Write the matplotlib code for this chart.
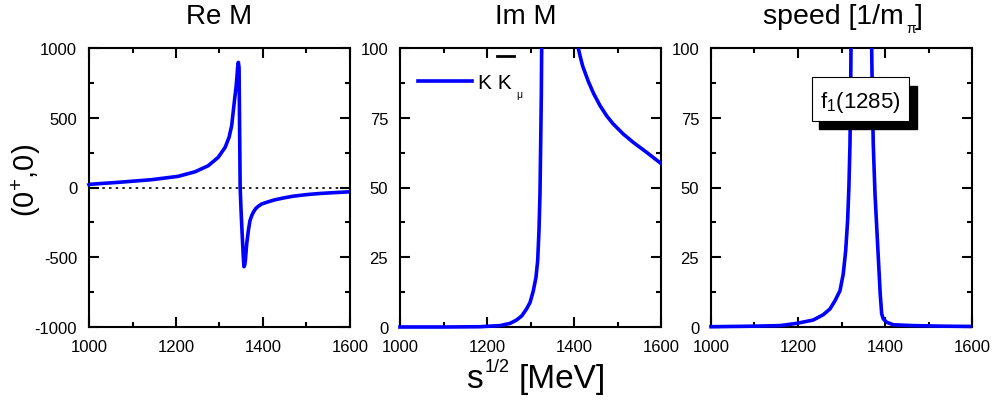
import numpy as np
import matplotlib
matplotlib.use('Agg')
import matplotlib.pyplot as plt
from matplotlib.patches import Rectangle
from matplotlib.lines import Line2D
from matplotlib.ticker import MultipleLocator
from matplotlib.transforms import Bbox, TransformedBbox

plt.rcParams['font.family'] = ['Liberation Sans', 'DejaVu Sans']
plt.rcParams['mathtext.fontset'] = 'custom'
plt.rcParams['mathtext.rm'] = 'Liberation Sans'
plt.rcParams['mathtext.it'] = 'Liberation Sans:italic'
plt.rcParams['axes.unicode_minus'] = False

# Re M of the (0+,0) amplitude, K Kbar_mu channel
re_x = [1000, 1002, 1067, 1144, 1205, 1244, 1274, 1297, 1313, 1322, 1328,
        1331.8, 1335, 1338, 1340, 1341.5, 1343.3, 1345, 1346, 1347.5, 1349.5,
        1351.7, 1354.8, 1356.3, 1358, 1359.4, 1362.5, 1366.3, 1370, 1374,
        1377.7, 1383, 1389, 1397, 1408.5, 1425, 1447, 1470, 1500, 1530, 1562,
        1604]
re_y = [20, 23, 37, 56, 80, 113, 156, 216, 288, 360, 443,
        550, 640, 718, 790, 855, 897, 860, 500, 0, -160,
        -310, -500, -568, -555, -525, -405, -310, -238, -202,
        -178, -152, -135, -118, -106, -90, -75, -62, -51, -43, -37,
        -30]

# Im M
im_x = [1000, 1100, 1184, 1230, 1253, 1268, 1280, 1291, 1299, 1306.5, 1312.6,
        1316.5, 1319.5, 1321.8, 1323.4, 1324.9, 1325.7, 1327, 1330, 1340, 1350,
        1360, 1370, 1380, 1390, 1395, 1400, 1405, 1410, 1415, 1420, 1433,
        1445, 1460, 1475, 1490, 1513, 1536, 1567, 1600]
im_y = [0, 0, 0.1, 0.5, 1.3, 2.5, 4, 6.5, 8.8, 13, 17.8,
        23.8, 34.5, 47.7, 65.6, 83.5, 99.6, 118, 170, 400, 600,
        400, 240, 170, 135, 122, 112, 105, 99.8, 96.5, 93.5, 88,
        83.7, 79.3, 75.7, 72.8, 69.2, 66.2, 62.6, 58.6]

# speed [1/m_pi]
sp_x = [1000, 1100, 1158.6, 1197, 1235, 1258, 1273.6, 1285, 1296.5, 1304,
        1309.6, 1314, 1317, 1319.5, 1321, 1321.8, 1323, 1330, 1345, 1360, 1367,
        1369.4, 1370.8, 1373, 1377, 1381, 1385, 1389, 1392.4, 1396.1, 1403.8,
        1419, 1465, 1530, 1600]
sp_y = [0.1, 0.3, 0.5, 1.3, 2.5, 4.4, 6.5, 9.4, 13, 19,
        27.3, 38, 50, 65.6, 83.5, 99.6, 130, 400, 1500, 400, 130,
        99.6, 83.5, 65.6, 47.7, 35.7, 23.8, 11.8, 4.7, 2.9, 1.7,
        0.8, 0.5, 0.3, 0.2]

titles = ['Re M', 'Im M', 'speed [1/m']
W, H = 995, 402


def fx(px):
    return px / W


def fy(py):
    return 1 - py / H


fig = plt.figure(figsize=(9.95, 4.02), dpi=100)
lefts = [89, 400, 711]
axes = [fig.add_axes([fx(l), fy(328), 261 / W, 279 / H]) for l in lefts]


def style(ax, lim, maj, mnr):
    ax.set_xlim(1000, 1600)
    ax.set_ylim(*lim)
    ax.xaxis.set_major_locator(MultipleLocator(200))
    ax.xaxis.set_minor_locator(MultipleLocator(100))
    ax.yaxis.set_major_locator(MultipleLocator(maj))
    ax.yaxis.set_minor_locator(MultipleLocator(mnr))
    ax.tick_params(which='both', direction='in', top=True, right=True,
                   width=1.5, labelsize=12)
    ax.tick_params(axis='x', pad=9)
    ax.tick_params(axis='y', pad=8.5)
    ax.tick_params(which='major', length=7)
    ax.tick_params(which='minor', length=3.6)
    for s in ax.spines.values():
        s.set_linewidth(1.5)


def curve(ax, x, y):
    ln, = ax.plot(x, y, color='#0000ff', lw=2.6, zorder=3)
    # clip only at the top/right so the line lying on y=0 stays full width
    ln.set_clip_path(None)
    ln.set_clip_box(TransformedBbox(Bbox([[-0.02, -0.04], [1.0, 1.0]]), ax.transAxes))
    return ln


ax1, ax2, ax3 = axes
style(ax1, (-1000, 1000), 500, 250)
style(ax2, (0, 100), 25, 12.5)
style(ax3, (0, 100), 25, 12.5)

curve(ax1, re_x, re_y)
ax1.axhline(0, color='black', lw=1.2, ls=(0, (1.5, 2.5)), zorder=2)
ln2 = curve(ax2, im_x, im_y)
curve(ax3, sp_x, sp_y)

# panel titles
fig.text(fx(219.5), fy(24), titles[0], fontsize=20, ha='center', va='baseline')
fig.text(fx(526), fy(24), titles[1], fontsize=20, ha='center', va='baseline')
fig.text(fx(763), fy(24), titles[2], fontsize=20.5, ha='left', va='baseline')
fig.text(fx(906), fy(33), 'π', fontsize=10, ha='left', va='baseline')
fig.text(fx(915), fy(24), ']', fontsize=20.5, ha='left', va='baseline')

# common axis labels
fig.text(fx(466), fy(388), 's', fontsize=24, ha='left', va='baseline')
fig.text(fx(485), fy(372), '1/2', fontsize=13, ha='left', va='baseline')
fig.text(fx(519), fy(388), '[MeV]', fontsize=24, ha='left', va='baseline')
fig.text(fx(26), fy(180), r'$\mathregular{(0^{+}{,}0)}$', fontsize=21,
         rotation=90, ha='center', va='center')

# legend of the middle panel
leg = ax2.legend([ln2], ['K K'], loc='center left', bbox_to_anchor=(0.070, 0.877),
                 frameon=False, fontsize=15, handlelength=2.56, handletextpad=0.32,
                 borderpad=0, borderaxespad=0)
fig.canvas.draw()
bb = leg.get_texts()[0].get_window_extent()
base = bb.y0 + 0.212 * 15 * 100 / 72
inv = fig.transFigure.inverted()
p0 = inv.transform((bb.x1 - 15, base + 31.7))
p1 = inv.transform((bb.x1 + 2, base + 31.7))
fig.add_artist(Line2D([p0[0], p1[0]], [p0[1], p1[1]], color='black', lw=2))
pm = inv.transform((bb.x1 + 4, base - 10))
fig.text(pm[0], pm[1], 'μ', fontsize=7.5, ha='left', va='baseline')

# resonance tag with drop shadow
ax3.add_patch(Rectangle((0.414, 0.710), 0.376, 0.155, transform=ax3.transAxes,
                        facecolor='black', edgecolor='black', zorder=4))
ax3.add_patch(Rectangle((0.386, 0.739), 0.374, 0.156, transform=ax3.transAxes,
                        facecolor='white', edgecolor='black', lw=0.8, zorder=5))
ax3.text(0.573, 0.7875, r'$\mathregular{f_1}$(1285)', transform=ax3.transAxes,
         fontsize=16, ha='center', va='baseline', zorder=6)

fig.savefig('out.png', dpi=100)
